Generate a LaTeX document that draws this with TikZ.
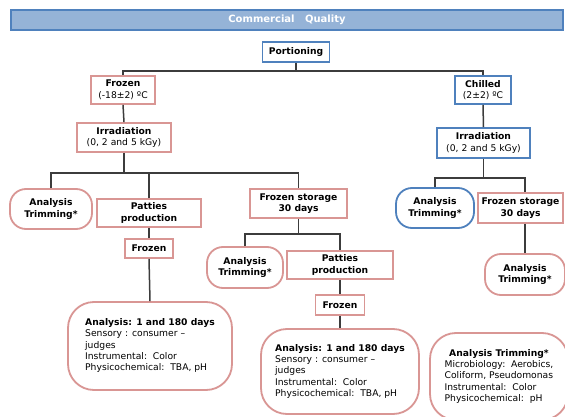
\documentclass[tikz,border=0pt]{standalone}
\usepackage{fontspec}
\setmainfont{DejaVu Sans}
\usetikzlibrary{calc}
\definecolor{pinkb}{RGB}{217,150,148}
\definecolor{blueb}{RGB}{79,129,189}
\definecolor{titlef}{RGB}{149,179,215}
\definecolor{linec}{RGB}{60,60,60}
\begin{document}
\begin{tikzpicture}[x=1pt,y=1pt,
  box/.style={draw, line width=1.8pt, fill=white, inner sep=0pt, align=center,
    font=\fontsize{9.2}{11.5}\selectfont\bfseries},
  pk/.style={box, draw=pinkb},
  bl/.style={box, draw=blueb},
  rnd/.style={rounded corners=16pt},
  bigrnd/.style={rounded corners=26pt},
  conn/.style={draw=linec, line width=1.5pt},
  big/.style={font=\fontsize{9.2}{11.3}\selectfont\mdseries}
]
\clip (0,0) rectangle (565,416);
\fill[white] (0,0) rectangle (565,416);

% title
\node[box, draw=blueb, fill=titlef, text=white, font=\fontsize{10}{12}\selectfont\bfseries, minimum width=552pt, minimum height=20pt] (title) at (287,396) {Commercial\ \ \ Quality};

\node[bl, minimum width=67pt, minimum height=20pt] (port) at (296,364) {Portioning};

\node[pk, minimum width=64pt, minimum height=28pt] (frozen1) at (123,326) {Frozen\\{\mdseries (-18±2) ºC}};
\node[bl, minimum width=56pt, minimum height=28pt] (chilled) at (483,326) {Chilled\\{\mdseries (2±2) ºC}};

\node[pk, minimum width=94pt, minimum height=29pt] (irrL) at (124,278.5) {Irradiation\\{\mdseries (0, 2 and 5 kGy)}};
\node[bl, minimum width=93pt, minimum height=30pt] (irrR) at (483.5,273) {Irradiation\\{\mdseries (0, 2 and 5 kGy)}};

\node[pk, rnd, minimum width=82pt, minimum height=40pt] (atL) at (51,207) {Analysis\\Trimming*};
\node[pk, minimum width=104pt, minimum height=28pt] (patL) at (149,203) {Patties\\production};
\node[pk, minimum width=48pt, minimum height=19pt] (frzL) at (149,167.5) {Frozen};
\node[pk, big, bigrnd, minimum width=164pt, minimum height=88pt] (bigL) at (150,70) {%
  \begin{tabular}{@{}l@{}}\bfseries Analysis: 1 and 180 days\\ Sensory : consumer –\\ judges\\ Instrumental:\ \ Color\\ Physicochemical:\ \ TBA, pH\end{tabular}};

\node[pk, minimum width=97pt, minimum height=29pt] (fsL) at (298.5,212.5) {Frozen storage\\30 days};
\node[pk, rnd, minimum width=76pt, minimum height=41pt] (atM) at (245,148.5) {Analysis\\Trimming*};
\node[pk, minimum width=106pt, minimum height=28pt] (patM) at (340,151) {Patties\\production};
\node[pk, minimum width=49pt, minimum height=20pt] (frzM) at (340,111) {Frozen};
\node[pk, big, bigrnd, minimum width=158pt, minimum height=85pt] (bigM) at (340,44.5) {%
  \begin{tabular}{@{}l@{}}\bfseries Analysis: 1 and 180 days\\ Sensory : consumer –\\ judges\\ Instrumental:\ \ Color\\ Physicochemical:\ \ TBA, pH\end{tabular}};

\node[bl, rnd, minimum width=78pt, minimum height=40pt] (atR) at (435,208) {Analysis\\Trimming*};
\node[pk, minimum width=85pt, minimum height=30pt] (fsR) at (520.5,208) {Frozen storage\\30 days};
\node[pk, rnd, minimum width=80pt, minimum height=41pt] (atR2) at (525,141.5) {Analysis\\Trimming*};
\node[pk, big, bigrnd, minimum width=138pt, minimum height=87pt] (bigR) at (499,39.5) {%
  \begin{tabular}{@{}l@{}}\multicolumn{1}{@{}c@{}}{\bfseries Analysis Trimming*}\\ Microbiology:\ \ Aerobics,\\ Coliform, Pseudomonas\\ Instrumental:\ \ Color\\ Physicochemical:\ \ pH\end{tabular}};

% connectors
\coordinate (bus1) at ($(port.south)+(0,-8)$);
\draw[conn] (port.south) -- (bus1);
\draw[conn] (frozen1.north) |- (bus1) -| (chilled.north);
\draw[conn] (frozen1.south) -- (irrL.north);
\draw[conn] (chilled.south) -- (irrR.north);

\coordinate (busL) at ($(irrL.south)+(0,-20)$);
\draw[conn] (irrL.south) -- (busL);
\draw[conn] (atL.north) |- (busL) -| (fsL.north);
\draw[conn] (patL.north) -- (patL.north |- busL);
\draw[conn] (patL.south) -- (frzL.north);
\draw[conn] (frzL.south) -- (bigL.north);

\coordinate (busM) at ($(fsL.south)+(0,-15)$);
\draw[conn] (fsL.south) -- (busM);
\draw[conn] (atM.north) |- (busM) -| (patM.north);
\draw[conn] (patM.south) -- (frzM.north);
\draw[conn] (frzM.south) -- (bigM.north);

\coordinate (busR) at ($(irrR.south)+(0,-19)$);
\draw[conn] (irrR.south) -- (busR);
\draw[conn] (atR.north) |- (busR) -| (atR2.north |- fsR.north);
\draw[conn] (atR2.north |- fsR.south) -- (atR2.north);
\end{tikzpicture}
\end{document}
